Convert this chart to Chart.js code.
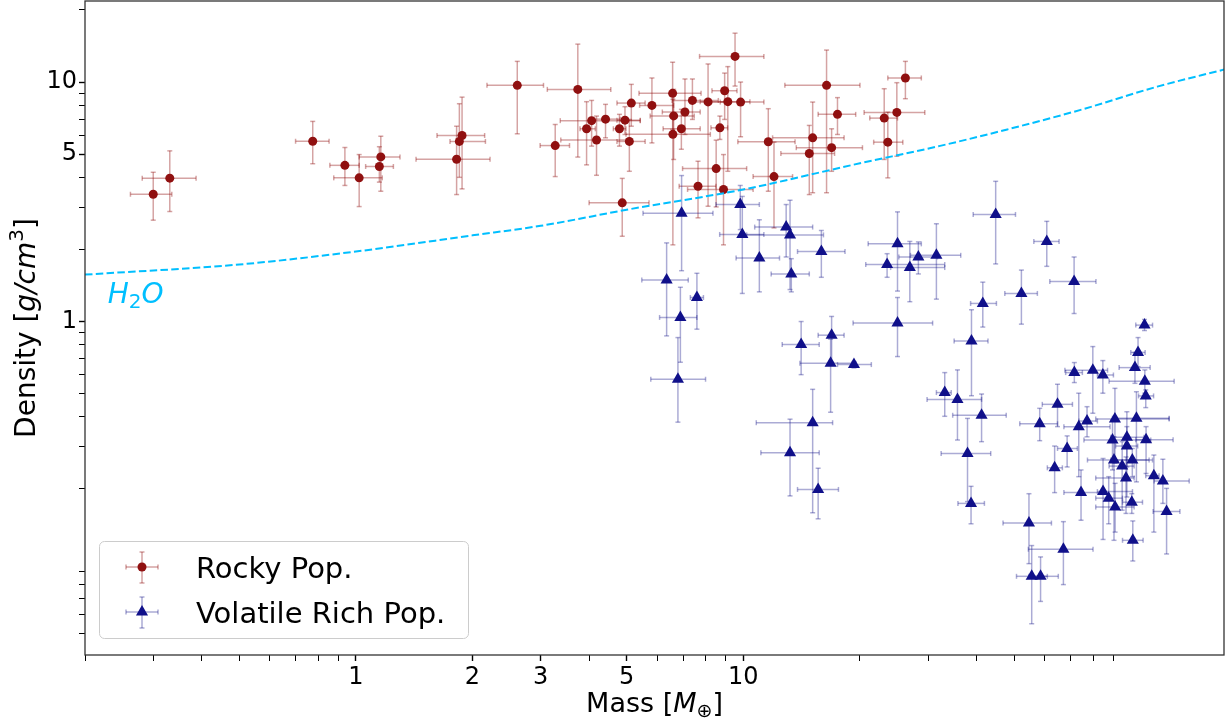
<!DOCTYPE html>
<html lang="en">
<head>
<meta charset="UTF-8">
<title>Density vs mass: rocky and volatile rich populations</title>
<script src="https://cdn.jsdelivr.net/npm/chart.js"></script>
<style>
    body { margin: 0; background: #fff; }
    #densityChart { display: block; }
</style>
</head>
<body>
<canvas id="densityChart" width="1226" height="722"></canvas>
<script>
// rocky population: value, lower / upper end of the error bars
const rockyMass    = [0.30, 0.331, 0.774, 0.937, 1.02, 1.16, 1.15, 1.82, 1.85, 1.88, 2.61, 3.27, 3.74, 4.06, 3.94, 4.18, 4.41, 4.79, 4.95, 5.08, 5.14, 5.81, 6.57, 6.61, 6.58, 7.07, 6.92, 7.39, 8.11, 8.95, 9.12, 9.84, 9.52, 8.70, 11.6, 12.0, 8.51, 7.64, 8.89, 4.87, 16.4, 26.2, 17.5, 23.1, 24.9, 23.6, 15.1, 16.9, 14.8];
const rockyDensity = [3.40, 3.97, 5.66, 4.49, 3.98, 4.87, 4.44, 4.76, 5.65, 5.98, 9.69, 5.43, 9.32, 6.90, 6.38, 5.73, 7.00, 6.38, 6.93, 5.65, 8.17, 7.99, 8.97, 7.22, 6.05, 7.50, 6.38, 8.38, 8.26, 9.20, 8.28, 8.25, 12.8, 6.44, 5.63, 4.03, 4.35, 3.67, 3.56, 3.13, 9.69, 10.4, 7.33, 7.07, 7.47, 5.61, 5.85, 5.32, 5.03];
const rockyMassLo  = [0.262, 0.281, 0.699, 0.857, 0.877, 1.02, 1.06, 1.43, 1.75, 1.62, 2.18, 2.99, 3.12, 3.37, 3.79, 3.38, 4.02, 4.62, 4.72, 4.72, 4.72, 5.40, 5.38, 5.75, 4.98, 6.18, 6.21, 6.55, 7.30, 8.30, 7.74, 8.72, 7.71, 8.25, 9.68, 10.6, 6.97, 6.83, 7.18, 4.00, 12.8, 23.6, 15.6, 21.2, 20.5, 21.7, 11.9, 13.7, 12.5];
const rockyMassHi  = [0.335, 0.387, 0.853, 1.02, 1.17, 1.30, 1.25, 2.22, 2.16, 2.15, 3.05, 3.56, 4.55, 5.42, 4.15, 5.10, 4.81, 4.98, 5.42, 5.58, 5.58, 6.61, 7.78, 7.47, 8.22, 7.74, 7.74, 8.62, 8.98, 9.63, 10.4, 11.3, 11.3, 9.11, 13.6, 13.4, 10.2, 8.50, 10.6, 5.71, 20.0, 28.8, 19.5, 25.0, 29.4, 25.8, 18.2, 20.3, 17.2];
const rockyDensLo  = [2.65, 2.88, 4.56, 3.70, 3.02, 3.50, 3.82, 3.39, 4.00, 3.58, 6.08, 4.03, 4.86, 5.40, 4.51, 4.08, 5.85, 5.40, 6.04, 4.24, 6.54, 5.57, 6.34, 4.75, 2.09, 6.04, 5.24, 6.98, 3.03, 6.98, 4.24, 5.91, 9.62, 5.76, 3.50, 2.46, 3.01, 2.71, 2.09, 2.27, 3.45, 8.52, 6.04, 4.75, 4.90, 3.98, 3.45, 4.24, 3.39];
const rockyDensHi  = [4.20, 5.16, 6.85, 5.33, 4.98, 5.94, 5.37, 6.54, 8.12, 8.65, 12.2, 6.65, 14.4, 8.38, 8.28, 7.21, 8.07, 7.33, 7.89, 6.98, 9.78, 10.4, 12.1, 9.32, 8.47, 10.3, 7.69, 10.3, 11.9, 10.9, 11.6, 10.0, 16.0, 7.21, 7.74, 5.61, 5.72, 4.67, 4.98, 3.96, 13.6, 12.2, 8.61, 9.38, 9.94, 7.49, 8.25, 6.38, 6.59];

// volatile rich population
const volMass    = [6.93, 9.82, 9.94, 11.0, 12.9, 13.2, 13.3, 15.9, 6.34, 7.59, 6.88, 6.78, 14.1, 16.9, 16.8, 19.3, 25.0, 25.0, 23.5, 26.9, 28.3, 31.5, 15.1, 13.2, 15.6, 44.8, 60.7, 71.4, 52.2, 41.5, 38.8, 33.1, 35.7, 41.2, 37.9, 38.7, 54.6, 67.0, 55.5, 58.5, 108.5, 104.4, 102.5, 108.7, 109.3, 71.5, 79.8, 84.7, 64.7, 58.2, 73.4, 77.1, 91.0, 103.4, 68.5, 63.6, 89.7, 97.7, 97.7, 109.5, 90.5, 95.0, 100.9, 97.2, 114.7, 121, 74.4, 84.8, 87.7, 91.1, 100.6, 123.7, 101.2];
const volDensity = [2.83, 3.08, 2.31, 1.84, 2.48, 2.30, 1.58, 1.96, 1.49, 1.26, 1.04, 0.574, 0.801, 0.877, 0.670, 0.661, 0.985, 2.11, 1.73, 1.68, 1.86, 1.89, 0.378, 0.283, 0.199, 2.80, 2.16, 1.47, 1.31, 1.19, 0.830, 0.505, 0.473, 0.406, 0.281, 0.174, 0.144, 0.112, 0.0863, 0.0863, 0.966, 0.743, 0.642, 0.563, 0.489, 0.612, 0.626, 0.598, 0.451, 0.374, 0.364, 0.384, 0.392, 0.395, 0.295, 0.245, 0.320, 0.329, 0.302, 0.321, 0.264, 0.249, 0.264, 0.222, 0.227, 0.216, 0.193, 0.195, 0.183, 0.168, 0.176, 0.161, 0.122];
const volMassLo  = [5.51, 8.50, 8.69, 9.58, 10.7, 10.2, 11.8, 13.8, 5.47, 7.30, 6.08, 5.77, 12.6, 15.6, 14.0, 17.5, 19.2, 21.0, 20.7, 24.0, 25.2, 27.0, 10.8, 11.1, 13.8, 39.2, 56.2, 61.8, 47.3, 38.6, 35.0, 31.5, 29.8, 34.7, 32.4, 35.8, 46.8, 54.4, 50.7, 54.6, 103, 100, 93.3, 87.9, 104.7, 67.9, 67.6, 82.0, 59.1, 51.7, 67.2, 73.5, 81.2, 89.7, 64.7, 60.9, 75.7, 88.8, 91.4, 103, 77.3, 87.9, 88.8, 81.2, 109.3, 114.9, 67.2, 82.0, 81.2, 81.2, 95.2, 114.2, 95.2];
const volMassHi  = [8.35, 11.0, 11.3, 12.4, 15.1, 16.1, 14.8, 18.3, 7.21, 7.89, 7.59, 7.99, 15.7, 18.2, 19.3, 21.4, 30.8, 28.8, 33.1, 33.1, 31.7, 36.4, 17.0, 15.7, 17.6, 50.4, 65.3, 81.3, 57.4, 45.0, 42.8, 34.4, 41.2, 47.7, 43.5, 41.9, 62.4, 79.9, 60.9, 65.0, 113.8, 108.9, 112.2, 129.4, 114.5, 75.0, 87.1, 90.2, 70.7, 64.7, 88.4, 82.0, 125.6, 125.6, 72.8, 66.6, 112.6, 108.2, 104.2, 128.6, 113.8, 102, 111.5, 102, 118.3, 141.5, 84.5, 101, 95.2, 102, 107.2, 133.9, 107.6];
const volDensLo  = [1.63, 2.42, 1.31, 1.33, 1.86, 1.36, 1.33, 1.53, 0.871, 0.929, 0.676, 0.380, 0.600, 0.674, 0.418, 0.64, 0.714, 1.34, 1.53, 1.21, 1.58, 1.24, 0.159, 0.187, 0.150, 1.74, 1.70, 1.08, 0.975, 0.948, 0.490, 0.402, 0.320, 0.315, 0.177, 0.143, 0.0975, 0.0797, 0.0547, 0.0678, 0.917, 0.648, 0.552, 0.502, 0.437, 0.556, 0.414, 0.502, 0.364, 0.318, 0.225, 0.330, 0.256, 0.214, 0.247, 0.193, 0.240, 0.247, 0.185, 0.232, 0.122, 0.163, 0.225, 0.158, 0.132, 0.174, 0.148, 0.123, 0.143, 0.132, 0.158, 0.107, 0.100];
const volDensHi  = [4.07, 3.70, 3.33, 2.66, 3.08, 3.21, 1.83, 2.40, 2.13, 1.59, 1.39, 0.857, 1.00, 1.05, 0.844, 0.68, 1.26, 2.87, 1.92, 2.16, 2.15, 2.56, 0.521, 0.391, 0.244, 3.85, 2.62, 1.86, 1.64, 1.46, 1.12, 0.612, 0.628, 0.498, 0.394, 0.205, 0.191, 0.146, 0.116, 0.104, 1.02, 0.857, 0.742, 0.628, 0.518, 0.674, 0.786, 0.687, 0.547, 0.434, 0.502, 0.441, 0.526, 0.509, 0.333, 0.302, 0.388, 0.420, 0.364, 0.364, 0.330, 0.315, 0.295, 0.272, 0.277, 0.266, 0.240, 0.268, 0.225, 0.211, 0.191, 0.201, 0.147];

// pure water curve
const waterMass    = [0.2, 0.5, 1, 2, 3, 5, 10, 20, 32, 48, 75, 117, 175];
const waterDensity = [1.57, 1.73, 1.96, 2.29, 2.51, 2.93, 3.56, 4.58, 5.40, 6.34, 7.69, 9.57, 11.3];

// ticks
const xTickValues = [0.2, 0.3, 0.4, 0.5, 0.6, 0.7, 0.8, 0.9, 1, 2, 3, 4, 5, 6, 7, 8, 9, 10, 20, 30, 40, 50, 60, 70, 80, 90];
const xTickLabels = [1, 2, 3, 5, 10];
const yTickValues = [0.05, 0.06, 0.07, 0.08, 0.09, 0.2, 0.3, 0.4, 0.5, 0.6, 0.7, 0.8, 0.9, 1, 2, 3, 4, 5, 6, 7, 8, 9, 10, 20];
const yTickLabels = [1, 5, 10];

const FONT = '"DejaVu Sans", sans-serif';
const ROCKY = '#901010';
const ROCKY_ERR = 'rgba(139, 0, 0, 0.36)';
const VOL = '#10108a';
const VOL_ERR = 'rgba(0, 0, 128, 0.33)';
const WATER = '#00bfff';

function toPoints(xs, ys) {
    return xs.map((x, i) => ({ x: x, y: ys[i] }));
}

function line(ctx, x0, y0, x1, y1) {
    ctx.beginPath();
    ctx.moveTo(x0, y0);
    ctx.lineTo(x1, y1);
    ctx.stroke();
}

// error cross with caps, used for the points and the legend
function errorCross(ctx, px, py, x0, x1, y0, y1) {
    const c = 2.5;
    line(ctx, x0, py, x1, py);
    line(ctx, px, y0, px, y1);
    line(ctx, x0, py - c, x0, py + c);
    line(ctx, x1, py - c, x1, py + c);
    line(ctx, px - c, y0, px + c, y0);
    line(ctx, px - c, y1, px + c, y1);
}

function triangle(ctx, x, y, r) {
    ctx.beginPath();
    ctx.moveTo(x, y - r);
    ctx.lineTo(x + r * Math.sin(Math.PI / 3), y + r / 2);
    ctx.lineTo(x - r * Math.sin(Math.PI / 3), y + r / 2);
    ctx.closePath();
    ctx.fill();
}

// text made of runs with own font and vertical shift, centred on x
function textRuns(ctx, runs, x, y) {
    let w = 0;
    runs.forEach(r => { ctx.font = r.font; w += ctx.measureText(r.text).width; });
    let cx = x - w / 2;
    runs.forEach(r => {
        ctx.font = r.font;
        ctx.fillText(r.text, cx, y + (r.dy || 0));
        cx += ctx.measureText(r.text).width;
    });
}

const errorBars = {
    id: 'errorBars',
    beforeDatasetDraw(chart, args) {
        const ds = chart.data.datasets[args.index];
        if (!ds.errX) return;
        const ctx = chart.ctx, xs = chart.scales.x, ys = chart.scales.y, a = chart.chartArea;
        ctx.save();
        ctx.beginPath();
        ctx.rect(a.left, a.top, a.right - a.left, a.bottom - a.top);
        ctx.clip();
        ctx.strokeStyle = ds.errColor;
        ctx.lineWidth = 1.5;
        ds.data.forEach((p, i) => {
            errorCross(ctx,
                xs.getPixelForValue(p.x), ys.getPixelForValue(p.y),
                xs.getPixelForValue(ds.errX[0][i]), xs.getPixelForValue(ds.errX[1][i]),
                ys.getPixelForValue(ds.errY[0][i]), ys.getPixelForValue(ds.errY[1][i]));
        });
        ctx.restore();
    }
};

const decorations = {
    id: 'decorations',
    afterDraw(chart) {
        const ctx = chart.ctx, a = chart.chartArea, xs = chart.scales.x, ys = chart.scales.y;
        ctx.save();

        // frame
        ctx.strokeStyle = '#333';
        ctx.lineWidth = 1.3;
        ctx.strokeRect(a.left, a.top, a.right - a.left, a.bottom - a.top);

        // H2O label next to the curve
        ctx.fillStyle = WATER;
        ctx.textAlign = 'left';
        ctx.textBaseline = 'alphabetic';
        let lx = xs.getPixelForValue(0.229), ly = ys.getPixelForValue(1.197);
        ctx.font = 'italic 28px ' + FONT;
        ctx.fillText('H', lx, ly);
        lx += ctx.measureText('H').width;
        ctx.font = '20px ' + FONT;
        ctx.fillText('2', lx, ly + 5);
        lx += ctx.measureText('2').width;
        ctx.font = 'italic 28px ' + FONT;
        ctx.fillText('O', lx, ly);

        // axis titles
        ctx.fillStyle = '#000';
        textRuns(ctx, [
            { text: 'Mass [', font: '27px ' + FONT },
            { text: 'M', font: 'italic 27px ' + FONT },
            { text: '\u2295', font: '19px ' + FONT, dy: 5 },
            { text: ']', font: '27px ' + FONT }
        ], (a.left + a.right) / 2, 712);

        ctx.save();
        ctx.translate(35, (a.top + a.bottom) / 2);
        ctx.rotate(-Math.PI / 2);
        textRuns(ctx, [
            { text: 'Density [', font: '28px ' + FONT },
            { text: 'g/cm', font: 'italic 28px ' + FONT },
            { text: '3', font: '20px ' + FONT, dy: -12 },
            { text: ']', font: '28px ' + FONT }
        ], 0, 0);
        ctx.restore();

        // legend
        const bx = 99.5, by = 541.5, bw = 369, bh = 97, r = 5;
        ctx.beginPath();
        ctx.moveTo(bx + r, by);
        ctx.arcTo(bx + bw, by, bx + bw, by + bh, r);
        ctx.arcTo(bx + bw, by + bh, bx, by + bh, r);
        ctx.arcTo(bx, by + bh, bx, by, r);
        ctx.arcTo(bx, by, bx + bw, by, r);
        ctx.closePath();
        ctx.fillStyle = 'rgba(255,255,255,0.8)';
        ctx.fill();
        ctx.strokeStyle = '#cccccc';
        ctx.lineWidth = 1;
        ctx.stroke();

        ctx.lineWidth = 1.5;
        ctx.strokeStyle = ROCKY_ERR;
        errorCross(ctx, 142, 567, 126, 158, 552, 583);
        ctx.fillStyle = ROCKY;
        ctx.beginPath();
        ctx.arc(142, 567, 4.5, 0, Math.PI * 2);
        ctx.fill();

        ctx.strokeStyle = VOL_ERR;
        errorCross(ctx, 142, 612, 126, 158, 597, 628);
        ctx.fillStyle = VOL;
        triangle(ctx, 142, 612, 7);

        ctx.fillStyle = '#000';
        ctx.font = '29px ' + FONT;
        ctx.fillText('Rocky Pop.', 196, 578);
        ctx.fillText('Volatile Rich Pop.', 196, 623);

        ctx.restore();
    }
};

function logAxis(min, max, values, labels, fit) {
    return {
        type: 'logarithmic',
        min: min,
        max: max,
        bounds: 'data',
        afterBuildTicks: axis => { axis.ticks = values.map(v => ({ value: v })); },
        afterFit: axis => {
            fit(axis);
            // no room for label overhang: the plot box fills the canvas like the original
            axis.paddingTop = 0;
            axis.paddingBottom = 0;
            axis.paddingLeft = 0;
            axis.paddingRight = 0;
        },
        border: { display: false },
        grid: {
            drawOnChartArea: false,
            drawTicks: true,
            tickLength: 6,
            tickColor: '#000',
            tickWidth: c => (c.tick && labels.includes(c.tick.value)) ? 1.4 : 1
        },
        ticks: {
            autoSkip: false,
            maxRotation: 0,
            minRotation: 0,
            padding: 2,
            color: '#000',
            font: { family: 'DejaVu Sans', size: 24 },
            callback: v => labels.includes(v) ? String(v) : ''
        }
    };
}

new Chart(document.getElementById('densityChart'), {
    type: 'scatter',
    data: {
        datasets: [
            {
                label: 'Rocky Pop.',
                data: toPoints(rockyMass, rockyDensity),
                errX: [rockyMassLo, rockyMassHi],
                errY: [rockyDensLo, rockyDensHi],
                errColor: ROCKY_ERR,
                pointStyle: 'circle',
                pointRadius: 4.5,
                backgroundColor: ROCKY,
                borderWidth: 0,
                order: 3
            },
            {
                label: 'Volatile Rich Pop.',
                data: toPoints(volMass, volDensity),
                errX: [volMassLo, volMassHi],
                errY: [volDensLo, volDensHi],
                errColor: VOL_ERR,
                pointStyle: 'triangle',
                pointRadius: 7,
                backgroundColor: VOL,
                borderWidth: 0,
                order: 2
            },
            {
                label: 'H2O',
                data: toPoints(waterMass, waterDensity),
                showLine: true,
                pointRadius: 0,
                borderColor: WATER,
                borderWidth: 2,
                borderDash: [7.5, 3.3],
                cubicInterpolationMode: 'monotone',
                order: 1
            }
        ]
    },
    options: {
        responsive: false,
        devicePixelRatio: 1,
        animation: false,
        layout: { autoPadding: false, padding: { top: 1, right: 2, left: 0, bottom: 0 } },
        plugins: {
            legend: { display: false },
            tooltip: { enabled: false }
        },
        scales: {
            x: logAxis(0.2, 174, xTickValues, xTickLabels, s => { s.height = 67; }),
            y: logAxis(0.0405, 21.8, yTickValues, yTickLabels, s => { s.width = 85; })
        }
    },
    plugins: [errorBars, decorations]
});
</script>
</body>
</html>
